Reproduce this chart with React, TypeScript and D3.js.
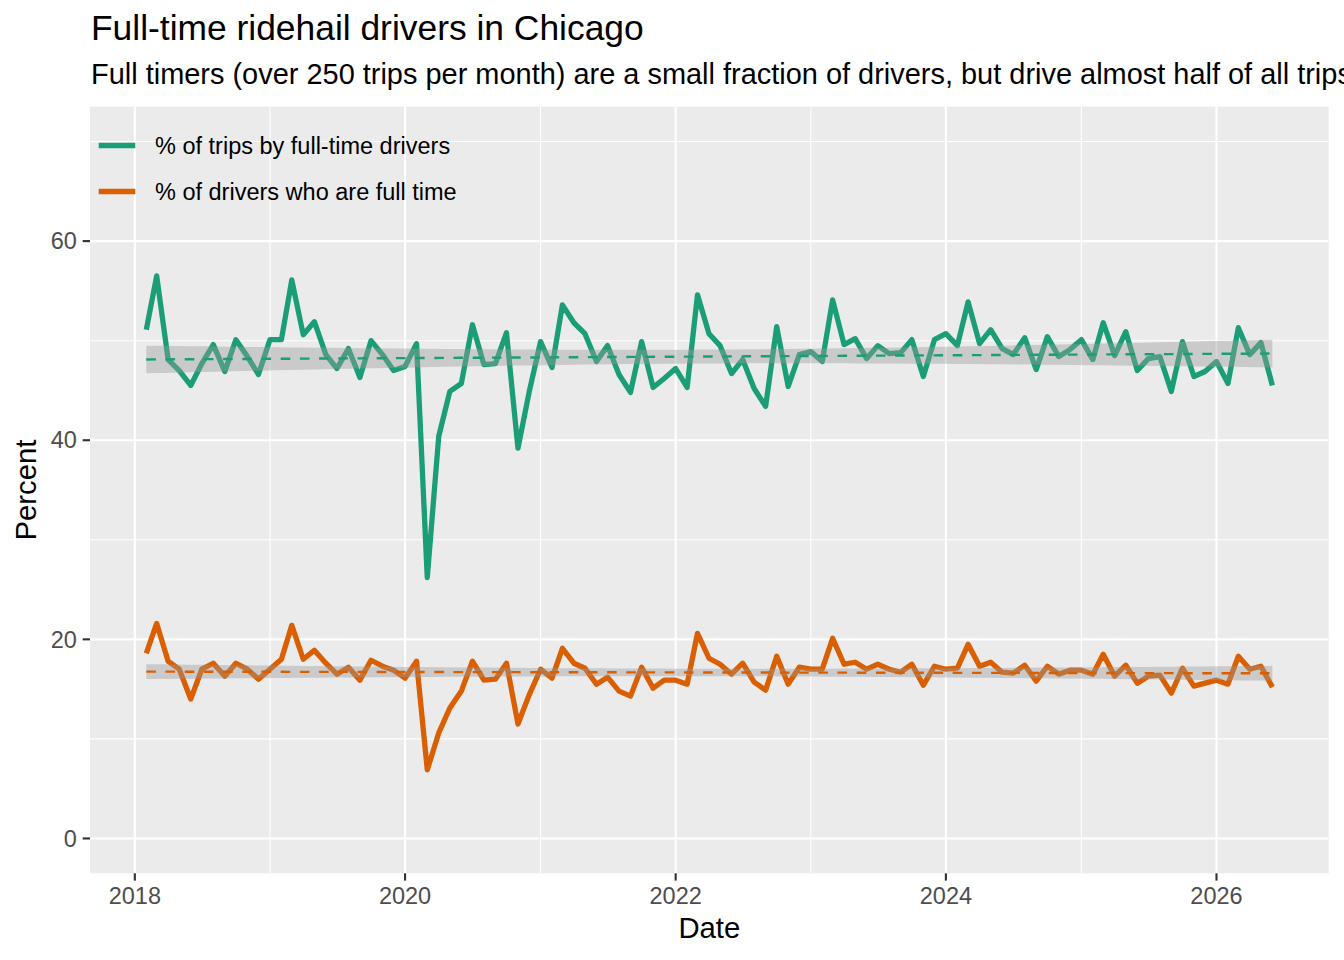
import React from "react";
import * as d3 from "d3";

const seriesNames = ["% of trips by full-time drivers", "% of drivers who are full time"];
const seriesColors = ["#1b9e77", "#d95f02"];

const startMonth = new Date(2018, 1, 1);
const endMonth = new Date(2026, 5, 1);
const months = d3.timeMonth.range(startMonth, d3.timeMonth.offset(endMonth, 1));

const tripsShare = [
  51.1, 56.5, 48.1, 47.0, 45.5, 47.7, 49.6, 46.9, 50.1, 48.4, 46.6, 50.1,
  50.1, 56.1, 50.6, 51.9, 48.6, 47.2, 49.2, 46.3, 50.0, 48.6, 47.0, 47.4,
  49.7, 26.2, 40.4, 44.9, 45.7, 51.6, 47.6, 47.7, 50.8, 39.2, 44.8, 49.9,
  47.3, 53.6, 51.8, 50.7, 47.9, 49.5, 46.6, 44.8, 49.9, 45.3, 46.2, 47.2,
  45.3, 54.6, 50.7, 49.5, 46.7, 48.1, 45.2, 43.4, 51.4, 45.4, 48.6, 48.9,
  47.9, 54.1, 49.6, 50.2, 48.2, 49.5, 48.7, 48.8, 50.1, 46.4, 50.1, 50.7,
  49.5, 53.9, 49.7, 51.1, 49.2, 48.6, 50.3, 47.1, 50.4, 48.4, 49.1, 50.1,
  48.1, 51.8, 48.5, 50.9, 47.0, 48.2, 48.4, 44.9, 49.9, 46.4, 46.9, 47.9,
  45.7, 51.3, 48.6, 49.8, 45.5,
];

const driversShare = [
  18.6, 21.6, 17.8, 17.0, 14.0, 17.0, 17.6, 16.3, 17.6, 17.0, 16.0, 17.0,
  18.0, 21.4, 18.0, 18.9, 17.6, 16.5, 17.2, 15.9, 17.9, 17.3, 16.9, 16.1,
  17.8, 6.9, 10.6, 13.1, 14.8, 17.8, 15.9, 16.0, 17.6, 11.5, 14.4, 17.0,
  16.1, 19.1, 17.6, 17.1, 15.5, 16.2, 14.8, 14.3, 17.2, 15.1, 15.9, 15.9,
  15.5, 20.6, 18.1, 17.5, 16.5, 17.6, 15.7, 14.9, 18.3, 15.5, 17.2, 17.0,
  17.0, 20.1, 17.5, 17.7, 17.0, 17.5, 17.0, 16.7, 17.5, 15.4, 17.3, 17.0,
  17.1, 19.5, 17.3, 17.7, 16.7, 16.6, 17.4, 15.8, 17.3, 16.5, 16.9, 16.9,
  16.5, 18.5, 16.3, 17.4, 15.6, 16.3, 16.4, 14.6, 17.1, 15.3, 15.6, 15.9,
  15.5, 18.3, 17.0, 17.3, 15.2,
];

const yTicks = [0, 20, 40, 60];
const yMinor = [10, 30, 50, 70];
const xTickYears = [2018, 2020, 2022, 2024, 2026];
const xMinorYears = [2019, 2021, 2023, 2025];

const W = 1344;
const H = 960;
const panel = { left: 90, right: 1328.7, top: 106.7, bottom: 873.3 };
const FONT = "'Liberation Sans', Arial, Helvetica, sans-serif";

function lmFit(xs: number[], ys: number[]) {
  const n = xs.length;
  const xbar = d3.mean(xs)!;
  const ybar = d3.mean(ys)!;
  let sxx = 0, sxy = 0;
  for (let i = 0; i < n; i++) {
    sxx += (xs[i] - xbar) ** 2;
    sxy += (xs[i] - xbar) * (ys[i] - ybar);
  }
  const b = sxy / sxx;
  const a = ybar - b * xbar;
  let sse = 0;
  for (let i = 0; i < n; i++) sse += (ys[i] - a - b * xs[i]) ** 2;
  const s = Math.sqrt(sse / (n - 2));
  const t = 1.984;
  return (x: number) => {
    const fit = a + b * x;
    const se = s * Math.sqrt(1 / n + (x - xbar) ** 2 / sxx);
    return { fit, lo: fit - t * se, hi: fit + t * se };
  };
}

export default function App() {
  const tMin = months[0].getTime();
  const tMax = months[months.length - 1].getTime();
  const span = tMax - tMin;
  const x = d3
    .scaleTime()
    .domain([new Date(tMin - 0.05 * span), new Date(tMax + 0.05 * span)])
    .range([panel.left, panel.right]);
  const y = d3.scaleLinear().domain([-3.5, 73.5]).range([panel.bottom, panel.top]);

  const series = [tripsShare, driversShare];
  const line = d3
    .line<number>()
    .x((_, i) => x(months[i]))
    .y((d) => y(d));

  const smooths = series.map((vals) => {
    const xs = months.map((m) => m.getTime());
    const f = lmFit(xs, vals);
    const grid = d3.range(80).map((k) => tMin + (span * k) / 79);
    const pts = grid.map((g) => ({ t: g, ...f(g) }));
    const area = d3
      .area<any>()
      .x((p) => x(new Date(p.t)))
      .y0((p) => y(p.lo))
      .y1((p) => y(p.hi))(pts)!;
    const fitLine = d3
      .line<any>()
      .x((p) => x(new Date(p.t)))
      .y((p) => y(p.fit))(pts)!;
    return { area, fitLine };
  });

  const pw = panel.right - panel.left;
  const ph = panel.bottom - panel.top;

  return (
    <svg
      width={W}
      height={H}
      style={{ position: "absolute", left: 0, top: 0, background: "#ffffff" }}
      fontFamily={FONT}
    >
      <defs>
        <clipPath id="panelClip">
          <rect x={panel.left} y={panel.top} width={pw} height={ph} />
        </clipPath>
      </defs>
      <rect x={0} y={0} width={W} height={H} fill="#ffffff" />
      <text x={91} y={40} fontSize={35.4} fill="#000000">
        Full-time ridehail drivers in Chicago
      </text>
      <text x={91} y={84} fontSize={28.95} fill="#000000">
        Full timers (over 250 trips per month) are a small fraction of drivers, but drive almost half of all trips
      </text>

      <rect x={panel.left} y={panel.top} width={pw} height={ph} fill="#ebebeb" />
      <g clipPath="url(#panelClip)">
        {yMinor.map((v) => (
          <line key={"ym" + v} x1={panel.left} x2={panel.right} y1={y(v)} y2={y(v)} stroke="#ffffff" strokeWidth={1.07} />
        ))}
        {xMinorYears.map((yr) => (
          <line key={"xm" + yr} x1={x(new Date(yr, 0, 1))} x2={x(new Date(yr, 0, 1))} y1={panel.top} y2={panel.bottom} stroke="#ffffff" strokeWidth={1.07} />
        ))}
        {yTicks.map((v) => (
          <line key={"yM" + v} x1={panel.left} x2={panel.right} y1={y(v)} y2={y(v)} stroke="#ffffff" strokeWidth={2.13} />
        ))}
        {xTickYears.map((yr) => (
          <line key={"xM" + yr} x1={x(new Date(yr, 0, 1))} x2={x(new Date(yr, 0, 1))} y1={panel.top} y2={panel.bottom} stroke="#ffffff" strokeWidth={2.13} />
        ))}

        {series.map((vals, si) => (
          <path key={"l" + si} d={line(vals)!} fill="none" stroke={seriesColors[si]} strokeWidth={5.3} strokeLinejoin="round" />
        ))}
        {smooths.map((s, si) => (
          <g key={"s" + si}>
            <path d={s.area} fill="#999999" fillOpacity={0.4} stroke="none" />
            <path d={s.fitLine} fill="none" stroke={seriesColors[si]} strokeWidth={2.4} strokeDasharray="9.6,9.6" />
          </g>
        ))}

        {seriesNames.map((name, si) => (
          <g key={"lg" + si}>
            <line x1={98.7} x2={135.3} y1={145.5 + si * 46} y2={145.5 + si * 46} stroke={seriesColors[si]} strokeWidth={5.3} />
            <text x={155} y={146 + si * 46} dy="0.35em" fontSize={23.5} fill="#000000">
              {name}
            </text>
          </g>
        ))}
      </g>

      {yTicks.map((v) => (
        <g key={"yt" + v}>
          <line x1={panel.left - 7.3} x2={panel.left} y1={y(v)} y2={y(v)} stroke="#333333" strokeWidth={2.13} />
          <text x={panel.left - 13.2} y={y(v)} dy="0.35em" textAnchor="end" fontSize={23.5} fill="#4d4d4d">
            {v}
          </text>
        </g>
      ))}
      {xTickYears.map((yr) => {
        const px = x(new Date(yr, 0, 1));
        return (
          <g key={"xt" + yr}>
            <line x1={px} x2={px} y1={panel.bottom} y2={panel.bottom + 7.3} stroke="#333333" strokeWidth={2.13} />
            <text x={px} y={904} textAnchor="middle" fontSize={23.5} fill="#4d4d4d">
              {yr}
            </text>
          </g>
        );
      })}

      <text x={(panel.left + panel.right) / 2} y={938} textAnchor="middle" fontSize={29.3} fill="#000000">
        Date
      </text>
      <text
        transform={`translate(36, ${(panel.top + panel.bottom) / 2}) rotate(-90)`}
        textAnchor="middle"
        fontSize={29.3}
        fill="#000000"
      >
        Percent
      </text>
    </svg>
  );
}
